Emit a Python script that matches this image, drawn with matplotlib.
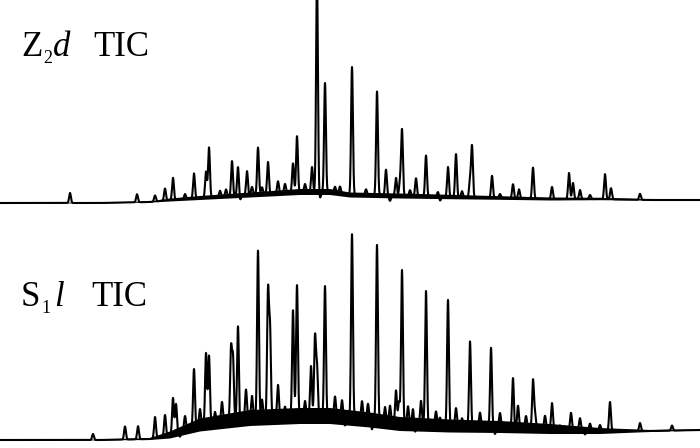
import numpy as np
import matplotlib.pyplot as plt

plt.rcParams['font.family'] = ['Liberation Serif', 'DejaVu Serif']

# retention axis (arbitrary units, 0-700)
# --- Z2d trace ---
z_base_x = [0, 100, 150, 170, 200, 250, 300, 330, 350, 400, 450, 500, 550, 600, 650, 700]
z_base_y = [7, 7, 8, 10, 12, 15, 18, 18, 15, 14, 13, 12, 11, 11, 10, 10]
z_noise = [0.4, 0.4, 0.6, 1.5, 2, 2.5, 3, 3, 2.5, 2.5, 2.2, 1.8, 1.5, 1.2, 0.6, 0.4]
z_peak_x = [70, 137, 155, 165, 173, 194, 206, 209, 232, 238, 247, 258, 268, 278,
            293, 297, 312, 317, 325, 352, 377, 386, 396, 400, 402, 416, 426, 448,
            456, 470, 472, 492, 513, 519, 533, 552, 569, 573, 580, 605, 611, 640,
            185, 220, 226, 252, 262, 285, 305, 335, 340, 360, 366, 410, 438, 462, 500, 590]
z_peak_h = [10, 8, 6, 12, 30, 25, 26, 50, 35, 29, 24, 47, 32, 26,
            39, 56, 25, 215, 109, 128, 104, 26, 18, 14, 66, 24, 41, 30,
            43, 24, 51, 22, 14, 9, 35, 12, 26, 16, 9, 25, 11, 6,
            5, 6, 7, 8, 7, 9, 8, 6, 7, 5, 6, 6, 5, 6, 4, 4]
z_dip_x = [173, 278, 293, 320, 360, 416, 470, 533, 240, 390, 440]
z_dip_h = [8, 14, 10, 6, 5, 6, 7, 4, 5, 5, 4]

# --- S1l trace ---
s_base_x = [0, 100, 150, 170, 200, 250, 300, 330, 370, 400, 450, 500, 550, 600, 650, 700]
s_base_y = [8, 8, 9, 13, 23, 30, 32, 32, 28, 24, 22, 21, 19, 17, 17, 18]
s_noise = [0.4, 0.4, 1, 3.5, 6.5, 8, 8, 8, 7.5, 7, 6.5, 6, 5, 3, 1, 0.5]
s_peak_x = [93, 125, 138, 155, 165, 173, 176, 194, 206, 209, 231, 233, 238, 246,
            258, 268, 270, 278, 293, 297, 311, 315, 317, 325, 352, 377, 385, 396,
            399, 402, 413, 421, 426, 448, 456, 470, 491, 513, 518, 533, 535, 552,
            571, 580, 610, 640, 672,
            185, 200, 215, 222, 252, 262, 285, 305, 335, 342, 362, 368, 390, 408,
            436, 440, 462, 480, 500, 526, 545, 560, 590, 600]
s_peak_h = [6, 13, 13, 21, 21, 36, 29, 58, 71, 68, 71, 61, 94, 29,
            175, 124, 87, 32, 106, 131, 50, 78, 48, 143, 184, 176, 15, 33,
            22, 170, 16, 24, 134, 126, 18, 93, 79, 50, 22, 48, 33, 26,
            17, 12, 29, 8, 5,
            14, 16, 18, 20, 22, 18, 20, 24, 20, 17, 18, 16, 17, 18,
            14, 16, 15, 14, 14, 12, 13, 10, 7, 6]
s_dip_x = [258, 325, 402, 535, 470, 180, 215, 240, 285, 305, 345, 372, 415, 440,
           462, 495, 515, 560, 585]
s_dip_h = [8, 13, 16, 19, 8, 5, 7, 8, 10, 9, 8, 9, 8, 8, 7, 7, 6, 6, 4]

x = np.linspace(0, 700, 7001)


def trace(bx, by, px, ph, dx, dh, sigma=0.9):
    base = np.interp(x, bx, by)
    y = base.copy()
    for p, h in zip(px, ph):
        y += h * np.exp(-0.5 * ((x - p) / sigma) ** 2)
    for p, h in zip(dx, dh):
        y -= h * np.exp(-0.5 * ((x - p) / sigma) ** 2)
    return base, y


fig = plt.figure(figsize=(7, 4.48), dpi=100)
ax1 = fig.add_axes([0, 233 / 448, 1, 215 / 448])
ax2 = fig.add_axes([0, 0, 1, 223 / 448])

for ax, bx, by, nz, px, ph, dx, dh in [
        (ax1, z_base_x, z_base_y, z_noise, z_peak_x, z_peak_h, z_dip_x, z_dip_h),
        (ax2, s_base_x, s_base_y, s_noise, s_peak_x, s_peak_h, s_dip_x, s_dip_h)]:
    base, y = trace(bx, by, px, ph, dx, dh)
    amp = np.interp(x, bx, nz)
    ax.fill_between(x, base - amp, base + amp, color='black', lw=0)
    ax.plot(x, y, color='black', lw=1.5)
    ax.set_xlim(0, 700)
    ax.axis('off')

ax1.set_ylim(-5, 210)
ax2.set_ylim(0, 223)


def label(letter, sub, ital, xp, yp, tic_x, gap):
    # letter, small subscript, italic letter, then "TIC"
    t = fig.text(xp / 700, 1 - yp / 448, letter, fontsize=25, va='baseline')
    s = fig.text(0, 0, '')
    s = plt.annotate(sub, xy=(1, 0), xycoords=t, xytext=(1, -2),
                     textcoords='offset points', fontsize=13, va='bottom')
    plt.annotate(ital, xy=(1, 0), xycoords=(s, t), xytext=(gap, 0),
                 textcoords='offset points', fontsize=25, style='italic',
                 va='bottom')
    fig.text(tic_x / 700, 1 - yp / 448, 'TIC', fontsize=25, va='baseline')


label('Z', '2', 'd', 21, 56, 93, 0)
label('S', '1', 'l', 21, 306, 91, 2)

fig.savefig('out.png', dpi=100)
